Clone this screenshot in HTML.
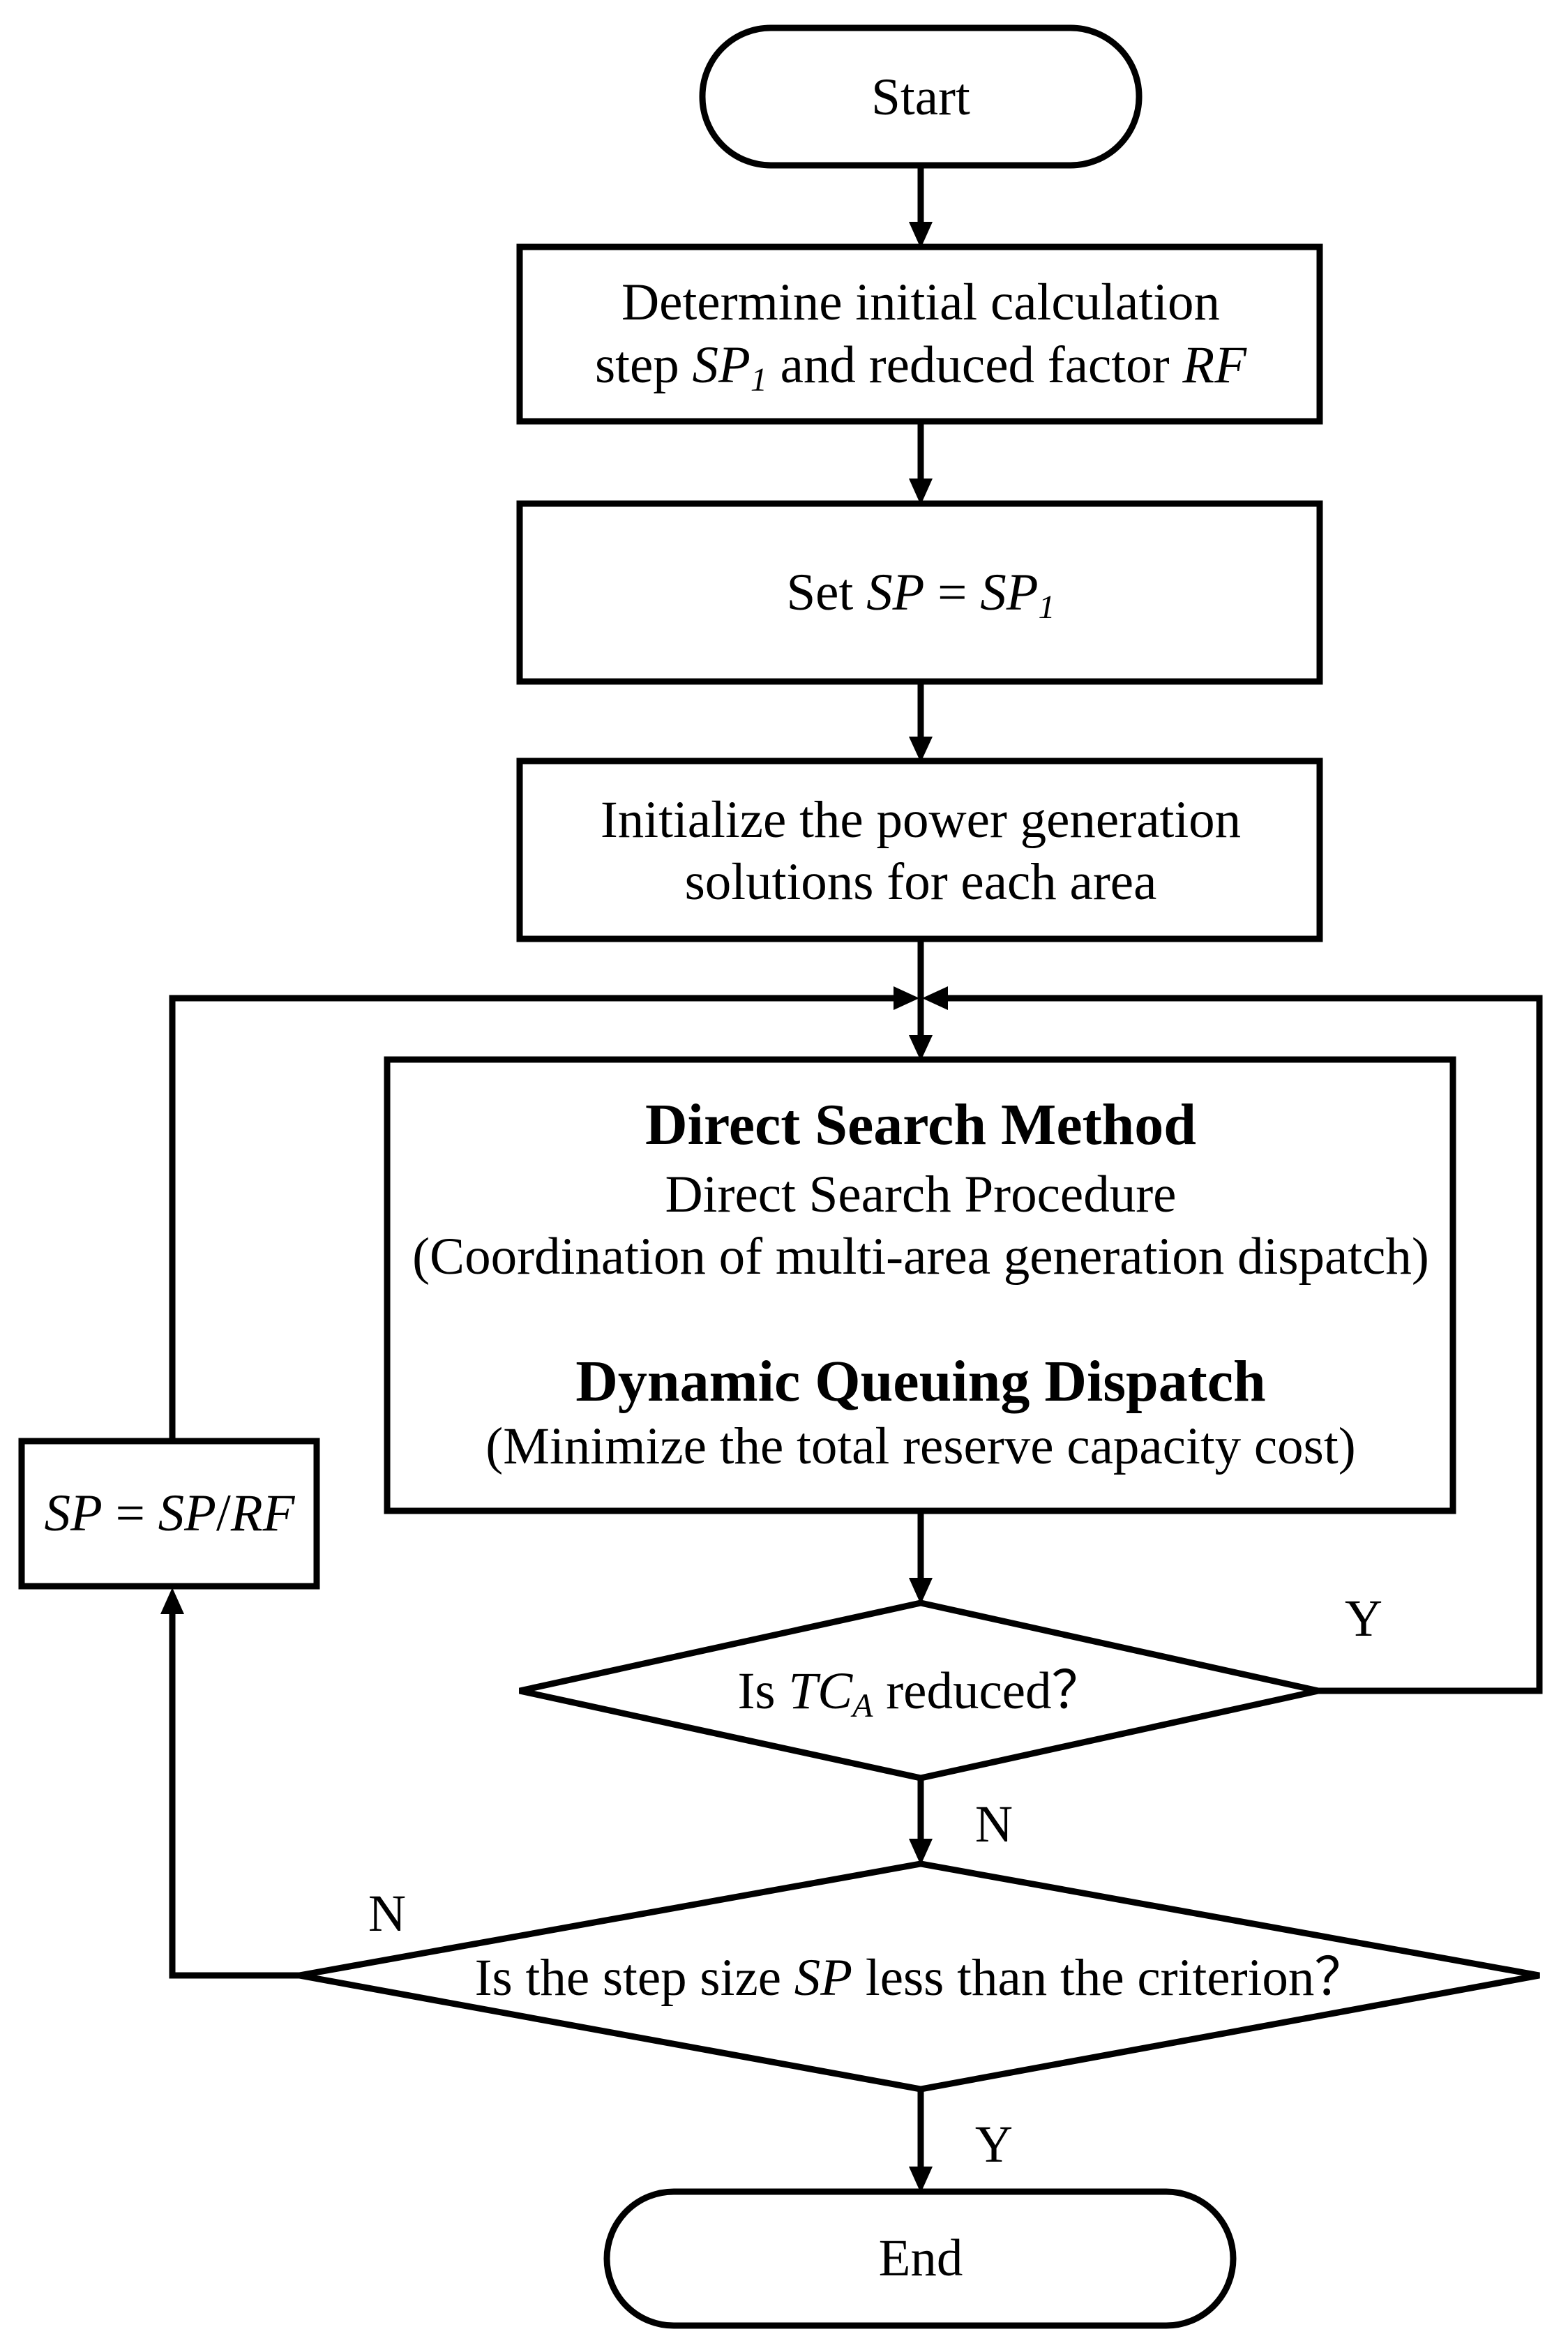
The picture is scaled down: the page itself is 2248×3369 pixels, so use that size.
<!DOCTYPE html>
<html><head><meta charset="utf-8"><style>
html,body{margin:0;padding:0;background:#fff}
svg{display:block}
text{font-family:"Liberation Serif",serif;font-size:75px;fill:#000}
</style></head><body>
<svg width="2248" height="3369" viewBox="0 0 2248 3369" xmlns="http://www.w3.org/2000/svg">
<g fill="none" stroke="#000" stroke-width="9" stroke-linejoin="miter">
<rect x="1007" y="40" width="626" height="197" rx="98" ry="98"/>
<rect x="745" y="354" width="1147" height="250"/>
<rect x="745" y="722" width="1147" height="255"/>
<rect x="745" y="1091" width="1147" height="255"/>
<rect x="555" y="1519" width="1528" height="647"/>
<rect x="31" y="2066" width="423" height="208"/>
<polygon points="745,2424 1320,2298 1890,2424 1320,2549"/>
<polygon points="429,2832 1320,2672 2207,2832 1320,2995"/>
<rect x="870" y="3142" width="898" height="192" rx="96" ry="96"/>
<line x1="1320" y1="237" x2="1320" y2="320"/>
<line x1="1320" y1="604" x2="1320" y2="690"/>
<line x1="1320" y1="977" x2="1320" y2="1060"/>
<line x1="1320" y1="1346" x2="1320" y2="1488"/>
<line x1="1320" y1="2166" x2="1320" y2="2266"/>
<line x1="1320" y1="2549" x2="1320" y2="2640"/>
<line x1="1320" y1="2995" x2="1320" y2="3110"/>
<polyline points="429,2832 247,2832 247,2310"/>
<polyline points="247,2066 247,1431 1285,1431"/>
<polyline points="1890,2424 2207,2424 2207,1431 1355,1431"/>
</g>
<g fill="#000">
<polygon points="1303,318 1337,318 1320,356"/>
<polygon points="1303,686 1337,686 1320,724"/>
<polygon points="1303,1056 1337,1056 1320,1093"/>
<polygon points="1303,1484 1337,1484 1320,1521"/>
<polygon points="1303,2262 1337,2262 1320,2300"/>
<polygon points="1303,2636 1337,2636 1320,2674"/>
<polygon points="1303,3106 1337,3106 1320,3144"/>
<polygon points="230,2314 264,2314 247,2276"/>
<polygon points="1281,1414 1281,1448 1318,1431"/>
<polygon points="1359,1414 1359,1448 1322,1431"/>
</g>
<g text-anchor="middle">
<text x="1320" y="458">Determine initial calculation</text>
<text x="1320" y="548">step <tspan font-style="italic">SP</tspan><tspan font-style="italic" font-size="48" dy="12">1</tspan><tspan dy="-12"> and reduced factor </tspan><tspan font-style="italic">RF</tspan></text>
<text x="1320" y="164">Start</text>
<text x="1320" y="874">Set <tspan font-style="italic">SP</tspan> = <tspan font-style="italic">SP</tspan><tspan font-style="italic" font-size="48" dy="12">1</tspan></text>
<text x="1320" y="1200">Initialize the power generation</text>
<text x="1320" y="1289">solutions for each area</text>
<text x="1320" y="1640" font-weight="bold" style="font-size:84px">Direct Search Method</text>
<text x="1320" y="1737">Direct Search Procedure</text>
<text x="1320" y="1826">(Coordination of multi-area generation dispatch)</text>
<text x="1320" y="2008" font-weight="bold" style="font-size:84px">Dynamic Queuing Dispatch</text>
<text x="1320" y="2098">(Minimize the total reserve capacity cost)</text>
<text x="243" y="2194"><tspan font-style="italic">SP</tspan> = <tspan font-style="italic">SP</tspan>/<tspan font-style="italic">RF</tspan></text>
<text x="1320" y="2449">Is <tspan font-style="italic">TC</tspan><tspan font-style="italic" font-size="48" dy="12">A</tspan><tspan dy="-12"> reduced？</tspan></text>
<text x="1320" y="2860">Is the step size <tspan font-style="italic">SP</tspan> less than the criterion？</text>
<text x="1320" y="3262">End</text>
<text x="1955" y="2345">Y</text>
<text x="1425" y="2640">N</text>
<text x="555" y="2768">N</text>
<text x="1425" y="3099">Y</text>
</g>
</svg>
</body></html>
